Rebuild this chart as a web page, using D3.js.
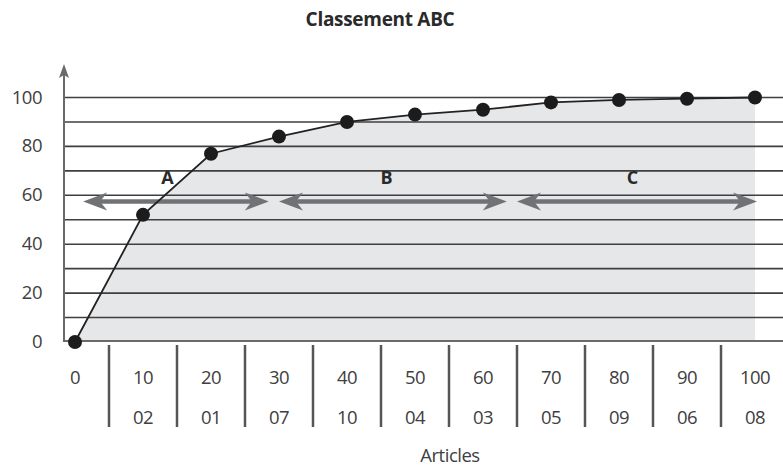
<!DOCTYPE html>
<html>
<head>
<meta charset="utf-8">
<script src="https://cdn.jsdelivr.net/npm/d3@7"></script>
<style>
  html, body { margin: 0; padding: 0; background: #fff; }
  svg { display: block; }
  text { font-family: "Open Sans", "Noto Sans", sans-serif; }
</style>
</head>
<body>
<svg id="chart" width="783" height="468"></svg>
<script>
// Cumulative share of value (%) against cumulative share of articles (%)
const articlePct = [0, 10, 20, 30, 40, 50, 60, 70, 80, 90, 100];
const articleCodes = ["", "02", "01", "07", "10", "04", "03", "05", "09", "06", "08"];
const cumulativeValue = [0, 52, 77, 84, 90, 93, 95, 98, 99, 99.5, 100];
const yTicks = [0, 20, 40, 60, 80, 100];
const gridValues = [10, 20, 30, 40, 50, 60, 70, 80, 90, 100];
// ABC classes: label, the article range each covers, and where its letter sits
const classes = [
  { name: "A", from: 1.2, to: 28.5, labelAt: 13.6 },
  { name: "B", from: 30, to: 63.5, labelAt: 45.8 },
  { name: "C", from: 65, to: 100.3, labelAt: 82 }
];
const classArrowLevel = 57.5;
const classLabelLevel = 67.5;

const svg = d3.select("#chart");
const x = d3.scaleLinear().domain([0, 100]).range([75, 755]);
const y = d3.scaleLinear().domain([0, 100]).range([342, 97.5]);
const axisX = 64;
const labelSize = 18.5;
const labelColor = "#404040";

// Title
svg.append("text")
  .attr("x", 380).attr("y", 26)
  .attr("text-anchor", "middle")
  .attr("font-size", 19).attr("font-weight", 700)
  .attr("fill", "#2a2a2a")
  .attr("letter-spacing", -0.3)
  .text("Classement ABC");

// Shaded area under the curve
const pts = articlePct.map((d, i) => [d, cumulativeValue[i]]);
svg.append("path")
  .datum(pts)
  .attr("fill", "#e6e7e9")
  .attr("d", d3.area().x(d => x(d[0])).y0(y(0)).y1(d => y(d[1])));

// Horizontal gridlines
svg.append("g")
  .selectAll("line")
  .data(gridValues)
  .join("line")
  .attr("x1", axisX).attr("x2", 783)
  .attr("y1", d => y(d)).attr("y2", d => y(d))
  .attr("stroke", "#3f3f3f").attr("stroke-width", 1.6);

// Baseline
svg.append("line")
  .attr("x1", axisX).attr("x2", 783)
  .attr("y1", y(0) - 1).attr("y2", y(0) - 1)
  .attr("stroke", "#6a6a6a").attr("stroke-width", 2);

// Y axis with arrow
svg.append("line")
  .attr("x1", axisX).attr("x2", axisX)
  .attr("y1", y(0)).attr("y2", 72)
  .attr("stroke", "#6a6a6a").attr("stroke-width", 2);
svg.append("path")
  .attr("d", `M${axisX},64 L${axisX - 5},78 L${axisX},75 L${axisX + 5},78 Z`)
  .attr("fill", "#6a6a6a");

// Y tick labels
svg.append("g")
  .selectAll("text")
  .data(yTicks)
  .join("text")
  .attr("x", 42).attr("y", d => y(d) + 6)
  .attr("text-anchor", "end")
  .attr("font-size", labelSize)
  .attr("fill", labelColor)
  .attr("letter-spacing", -0.5)
  .text(d => d);

// Class range arrows (double-headed)
const arrowColor = "#717275";
const arrows = svg.append("g");
classes.forEach(c => {
  const x1 = x(c.from), x2 = x(c.to), yy = y(classArrowLevel);
  arrows.append("line")
    .attr("x1", x1 + 10).attr("x2", x2 - 10)
    .attr("y1", yy).attr("y2", yy)
    .attr("stroke", arrowColor).attr("stroke-width", 4.5);
  arrows.append("path")
    .attr("d", `M${x1},${yy} L${x1 + 24},${yy - 9} L${x1 + 17},${yy} L${x1 + 24},${yy + 9} Z`)
    .attr("fill", arrowColor);
  arrows.append("path")
    .attr("d", `M${x2},${yy} L${x2 - 24},${yy - 9} L${x2 - 17},${yy} L${x2 - 24},${yy + 9} Z`)
    .attr("fill", arrowColor);
  arrows.append("text")
    .attr("x", x(c.labelAt)).attr("y", y(classLabelLevel) + 7)
    .attr("text-anchor", "middle")
    .attr("font-size", 18).attr("font-weight", 700)
    .attr("fill", "#2a2a2a")
    .text(c.name);
});

// Curve and points
svg.append("path")
  .datum(pts)
  .attr("fill", "none")
  .attr("stroke", "#222").attr("stroke-width", 1.8)
  .attr("d", d3.line().x(d => x(d[0])).y(d => y(d[1])));
svg.append("g")
  .selectAll("circle")
  .data(pts)
  .join("circle")
  .attr("cx", d => x(d[0])).attr("cy", d => y(d[1]))
  .attr("r", 7)
  .attr("fill", "#1c1c1c");

// X category separators
const step = x(10) - x(0);
svg.append("g")
  .selectAll("line")
  .data(articlePct.slice(1))
  .join("line")
  .attr("x1", d => x(d) - step / 2).attr("x2", d => x(d) - step / 2)
  .attr("y1", 345).attr("y2", 427)
  .attr("stroke", "#555").attr("stroke-width", 2.5);

// X labels: cumulative % of articles and article codes
svg.append("g")
  .selectAll("text")
  .data(articlePct)
  .join("text")
  .attr("x", d => x(d)).attr("y", 384)
  .attr("text-anchor", "middle")
  .attr("font-size", labelSize).attr("fill", labelColor)
  .attr("letter-spacing", -0.5)
  .text(d => d);
svg.append("g")
  .selectAll("text")
  .data(articlePct)
  .join("text")
  .attr("x", d => x(d)).attr("y", 424)
  .attr("text-anchor", "middle")
  .attr("font-size", labelSize).attr("fill", labelColor)
  .attr("letter-spacing", -0.5)
  .text((d, i) => articleCodes[i]);

svg.append("text")
  .attr("x", 450).attr("y", 462)
  .attr("text-anchor", "middle")
  .attr("font-size", labelSize).attr("fill", labelColor)
  .attr("letter-spacing", -0.5)
  .text("Articles");
</script>
</body>
</html>
